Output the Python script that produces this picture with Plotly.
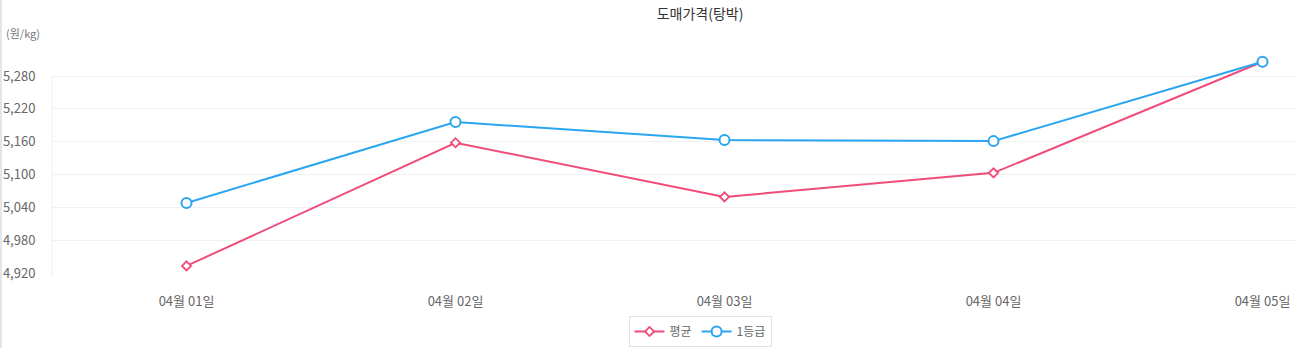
import plotly.graph_objects as go

categories = ["04월 01일", "04월 02일", "04월 03일", "04월 04일", "04월 05일"]
avg_values = [4933, 5158, 5059, 5103, 5306]
grade1_values = [5048, 5196, 5163, 5161, 5306]
y_ticks = [4920, 4980, 5040, 5100, 5160, 5220, 5280]
y_tick_labels = ["4,920", "4,980", "5,040", "5,100", "5,160", "5,220", "5,280"]

W, H = 1296, 348
ML, MR, MT, MB = 52, 0, 40, 75
PW = W - ML - MR
PH = H - MT - MB
px_per_unit_y = 197 / 360.0
y_min = 4920
y_max = y_min + PH / px_per_unit_y
x_max = -0.5 + PW / 269.0

def py(pix):
    # pixel y (from top) -> paper y
    return (H - MB - pix) / PH

def px(pix):
    return (pix - ML) / PW

pink = "#ef4c79"
blue = "#2aa5f0"
font_family = "Noto Sans CJK KR, Noto Sans, sans-serif"

fig = go.Figure()
fig.add_trace(go.Scatter(
    x=list(range(len(categories))), y=avg_values, name="평균", mode="lines+markers",
    line=dict(color=pink, width=2),
    marker=dict(symbol="diamond", size=7, color="white", line=dict(color=pink, width=1.8)),
    cliponaxis=False,
))
fig.add_trace(go.Scatter(
    x=list(range(len(categories))), y=grade1_values, name="1등급", mode="lines+markers",
    line=dict(color=blue, width=2),
    marker=dict(symbol="circle", size=10, color="white", line=dict(color=blue, width=2)),
    cliponaxis=False,
))

fig.update_layout(
    width=W, height=H,
    margin=dict(l=ML, r=MR, t=MT, b=MB, pad=0),
    paper_bgcolor="white", plot_bgcolor="white",
    font=dict(family=font_family, size=13, color="#666666"),
    title=dict(text="도매가격(탕박)", x=700 / W, xanchor="center", xref="container",
               y=1 - 14 / H, yanchor="middle", yref="container",
               font=dict(size=14, color="#333333", family=font_family, weight=400)),
    showlegend=True,
    legend=dict(orientation="h", x=px(700), xanchor="center", y=py(316), yanchor="top",
                bordercolor="#e3e3e3", borderwidth=1, bgcolor="white",
                font=dict(size=12, color="#666666"), itemwidth=30),
    xaxis=dict(
        range=[-0.5, x_max], tickmode="array",
        tickvals=list(range(len(categories))), ticktext=categories,
        showgrid=False, zeroline=False, showline=False,
        ticks="outside", ticklen=16, tickcolor="rgba(0,0,0,0)",
        tickfont=dict(size=13, color="#666666"), fixedrange=True,
    ),
    yaxis=dict(
        range=[y_min, y_max], tickmode="array", tickvals=y_ticks, ticktext=y_tick_labels,
        showgrid=True, gridcolor="#f1f1f1", gridwidth=1, zeroline=False, showline=False,
        ticks="outside", ticklen=13, tickcolor="rgba(0,0,0,0)",
        tickfont=dict(size=13, color="#666666"), fixedrange=True,
    ),
    shapes=[
        dict(type="line", xref="paper", yref="paper", x0=0, x1=0,
             y0=py(277), y1=py(76), line=dict(color="#eeeeee", width=1)),
        dict(type="line", xref="paper", yref="paper", x0=px(1), x1=px(1),
             y0=py(348), y1=py(0), line=dict(color="#cccccc", width=1)),
    ],
    annotations=[
        dict(text="(원/kg)", xref="paper", yref="paper", x=px(4), xanchor="left",
             y=py(33), yanchor="middle", showarrow=False,
             font=dict(size=11, color="#777777", family=font_family)),
    ],
)

fig.write_html("out.html")
